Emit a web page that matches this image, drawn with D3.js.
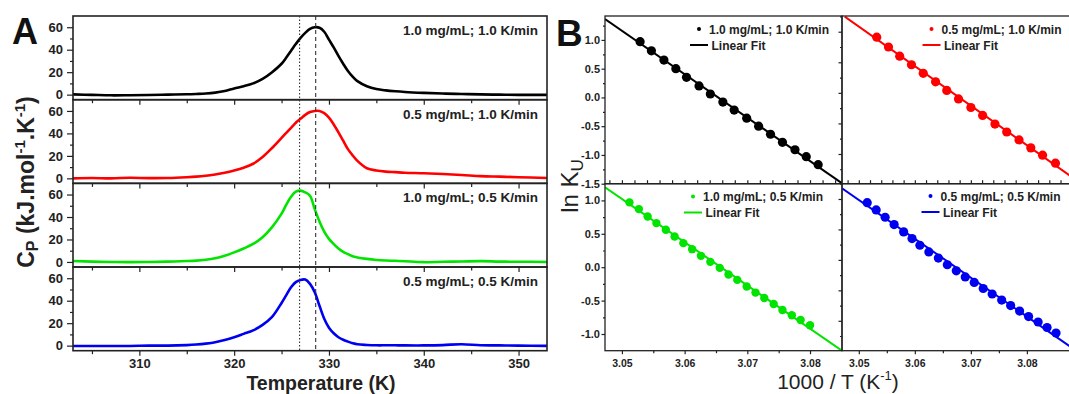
<!DOCTYPE html>
<html>
<head>
<meta charset="utf-8">
<script src="https://cdn.jsdelivr.net/npm/d3@7"></script>
<style>
  body { margin: 0; background: #fff; }
  svg { display: block; font-family: "Liberation Sans", Arial, sans-serif; }
</style>
</head>
<body>
<svg id="chart" width="1069" height="394"></svg>
<script>
// ---------- Panel A: DSC heat capacity traces ----------
const tempK = [303, 305, 307, 309, 311, 313, 315, 316, 317, 318, 319, 320, 321, 322, 323, 324, 325,
  325.5, 326, 326.5, 327, 327.5, 328, 328.5, 329, 329.5, 330, 330.5, 331, 331.5, 332, 332.5, 333,
  334, 335, 336, 337, 338, 340, 342, 344, 346, 348, 350, 353];

const cpC10R10 = [0.2, -0.2, -0.6, -0.5, -0.3, 0, 0.3, 0.6, 1, 1.8, 3.2, 5.5, 7.5, 10, 14, 20, 27.5,
  33, 39, 45, 50.5, 55, 58.5, 60, 59.5, 56, 49, 42, 34.5, 27.5, 21, 16, 12,
  7.5, 5, 3.8, 3, 2.4, 1.6, 1, 0.6, 0.2, 0, -0.2, -0.2];

const cpC05R10 = [0, 0.3, 0, 0.5, 0.2, 0.3, 1, 1.5, 2.3, 3.5, 5, 7, 9.5, 13, 19, 27, 36,
  40.5, 45, 49.5, 53, 56.5, 59, 60, 60, 58, 54, 48, 41, 33.5, 26, 20.5, 15.5,
  9, 7, 6, 5.5, 5, 4.5, 3.8, 3, 2, 1.5, 1, 0.3];

const cpC10R05 = [0.8, 0.3, 0, -0.2, 0, 0.3, 0.8, 1.2, 2, 3.3, 5.5, 8.5, 12, 16, 22, 31, 43,
  51, 58, 62.5, 63.5, 62, 59, 47, 36, 27, 20.5, 16, 12, 9, 7, 5, 4,
  2.7, 1.8, 1.3, 1, 0.6, -0.2, 0.2, 0.4, 0.7, 0.3, 0.2, 0];

const cpC05R05 = [-0.3, -0.3, -0.3, -0.3, 0, 0, 0.5, 1, 1.8, 3, 5, 7.5, 10.5, 13.6, 18.5, 25.6, 38,
  45, 52, 56.5, 58.5, 58.8, 55, 47.5, 35.5, 24, 16, 11, 7.5, 5.2, 3.6, 2.2, 1.2,
  0.6, 0.3, 0.3, 0.3, 0.2, 0.2, 0.5, 1.3, 0.3, 0.2, 0, -0.2];

const sampleLabels = ["1.0 mg/mL; 1.0 K/min", "0.5 mg/mL; 1.0 K/min",
                      "1.0 mg/mL; 0.5 K/min", "0.5 mg/mL; 0.5 K/min"];
const sampleColors = ["#000000", "#ff0000", "#00e400", "#0000f0"];

// transition temperatures marked by the vertical reference lines
const refTempDotted = 326.9;
const refTempDashed = 328.6;

const cpTicks = [0, 20, 40, 60];
const cpMinorTicks = [10, 30, 50];
const tempTicks = [310, 320, 330, 340, 350];
const tempMinorTicks = [305, 315, 325, 335, 345];

// ---------- Panel B: van 't Hoff plots ----------
const invT_C10R10 = [3.0529, 3.0547, 3.0567, 3.0586, 3.0603, 3.0623, 3.0641, 3.0661, 3.0679, 3.0699,
  3.0718, 3.0737, 3.0756, 3.0776, 3.0794, 3.0813];
const lnK_C10R10 = [0.97, 0.81, 0.65, 0.50, 0.35, 0.20, 0.06, -0.08, -0.22, -0.36,
  -0.50, -0.64, -0.78, -0.91, -1.03, -1.17];
const fitX_C10R10 = [3.0473, 3.0851];
const fitY_C10R10 = [1.364, -1.493];

const invT_C05R10 = [3.0532, 3.0553, 3.0573, 3.0594, 3.0615, 3.0637, 3.0657, 3.0678, 3.0700, 3.0721,
  3.0743, 3.0764, 3.0786, 3.0807, 3.0828, 3.0851];
const lnK_C05R10 = [0.91, 0.75, 0.60, 0.46, 0.32, 0.18, 0.04, -0.10, -0.24, -0.37,
  -0.51, -0.64, -0.77, -0.90, -1.02, -1.15];
const fitX_C05R10 = [3.0475, 3.0893];
const fitY_C05R10 = [1.246, -1.459];

const invT_C10R05 = [3.0512, 3.0527, 3.0541, 3.0555, 3.0570, 3.0584, 3.0598, 3.0612, 3.0626, 3.0641,
  3.0656, 3.0670, 3.0684, 3.0699, 3.0713, 3.0727, 3.0742, 3.0756, 3.0771, 3.0785, 3.0800];
const lnK_C10R05 = [0.97, 0.87, 0.76, 0.66, 0.56, 0.46, 0.36, 0.27, 0.17, 0.08,
  -0.01, -0.11, -0.19, -0.29, -0.38, -0.46, -0.55, -0.64, -0.72, -0.79, -0.87];
const fitX_C10R05 = [3.0473, 3.0851];
const fitY_C10R05 = [1.196, -1.25];

const invT_C05R05 = [3.0515, 3.0531, 3.0547, 3.0563, 3.0580, 3.0595, 3.0609, 3.0625, 3.0642, 3.0658,
  3.0674, 3.0690, 3.0706, 3.0722, 3.0738, 3.0755, 3.0771, 3.0787, 3.0803, 3.0820, 3.0836, 3.0852];
const lnK_C05R05 = [0.94, 0.82, 0.70, 0.58, 0.46, 0.35, 0.24, 0.13, 0.03, -0.08,
  -0.18, -0.28, -0.37, -0.47, -0.56, -0.66, -0.75, -0.84, -0.93, -1.02, -1.11, -1.20];
const fitX_C05R05 = [3.047, 3.0893];
const fitY_C05R05 = [1.176, -1.524];

const invTTicks = [3.05, 3.06, 3.07, 3.08];
const invTMinorTicks = [3.055, 3.065, 3.075];
const lnKTicksTop = [1.0, 0.5, 0.0, -0.5, -1.0, -1.5];
const lnKTicksBottom = [1.0, 0.5, 0.0, -0.5, -1.0];
const lnKMinorTicks = [1.25, 0.75, 0.25, -0.25, -0.75, -1.25];
const fitLegendLabel = "Linear Fit";

// ================= drawing =================
const svg = d3.select("#chart");
const defs = svg.append("defs");
const frameColor = "#222";

function styleAxis(g, fontSize) {
  g.select(".domain").remove();
  g.selectAll(".tick line").attr("stroke", frameColor).attr("stroke-width", 1.2);
  g.selectAll(".tick text")
    .attr("fill", "#222")
    .attr("font-weight", "bold")
    .attr("font-size", fontSize)
    .attr("font-family", "'Liberation Sans', Arial, sans-serif");
}

// ---------- Panel A ----------
const xA = d3.scaleLinear().domain([303, 353]).range([73, 547]);
const stripTops = [16, 99.7, 183.3, 267];
const stripH = 83.7;
const cpSeries = [cpC10R10, cpC05R10, cpC10R05, cpC05R05];
const gA = svg.append("g");

cpSeries.forEach((cp, i) => {
  const top = stripTops[i];
  const bottom = top + stripH;
  const y = d3.scaleLinear().domain([-4.5, 70]).range([bottom, top]);

  defs.append("clipPath").attr("id", "clipA" + i)
    .append("rect").attr("x", xA.range()[0]).attr("y", top)
    .attr("width", xA.range()[1] - xA.range()[0]).attr("height", stripH);

  const line = d3.line()
    .x((d, k) => xA(tempK[k]))
    .y(d => y(d))
    .curve(d3.curveCatmullRom.alpha(0.5));

  gA.append("path")
    .datum(cp)
    .attr("clip-path", "url(#clipA" + i + ")")
    .attr("fill", "none")
    .attr("stroke", sampleColors[i])
    .attr("stroke-width", 2.6)
    .attr("stroke-linejoin", "round")
    .attr("d", line);

  // y axis: major + minor ticks
  const yAx = gA.append("g").attr("transform", `translate(${xA.range()[0]},0)`)
    .call(d3.axisLeft(y).tickValues(cpTicks).tickSize(6).tickPadding(4).tickFormat(d3.format("d")));
  styleAxis(yAx, 13);
  const yMinor = gA.append("g").attr("transform", `translate(${xA.range()[0]},0)`)
    .call(d3.axisLeft(y).tickValues(cpMinorTicks).tickSize(3).tickFormat(""));
  styleAxis(yMinor, 13);

  // x axis below each strip
  const last = i === cpSeries.length - 1;
  const xAx = gA.append("g").attr("transform", `translate(0,${bottom})`)
    .call(d3.axisBottom(xA).tickValues(tempTicks).tickSize(5).tickPadding(3.5)
      .tickFormat(last ? d3.format("d") : ""));
  styleAxis(xAx, 13);
  const xMinor = gA.append("g").attr("transform", `translate(0,${bottom})`)
    .call(d3.axisBottom(xA).tickValues(tempMinorTicks).tickSize(3.5).tickFormat(""));
  styleAxis(xMinor, 13);

  gA.append("rect")
    .attr("x", xA.range()[0]).attr("y", top)
    .attr("width", xA.range()[1] - xA.range()[0]).attr("height", stripH)
    .attr("fill", "none").attr("stroke", frameColor).attr("stroke-width", 1.6);

  gA.append("text")
    .attr("x", 538).attr("y", top + 19)
    .attr("text-anchor", "end")
    .attr("font-weight", "bold").attr("font-size", 13.5).attr("fill", "#222")
    .text(sampleLabels[i]);
});

// vertical reference lines through all strips
const aTop = stripTops[0], aBottom = stripTops[3] + stripH;
gA.append("line")
  .attr("x1", xA(refTempDotted)).attr("x2", xA(refTempDotted))
  .attr("y1", aTop).attr("y2", aBottom)
  .attr("stroke", "#333").attr("stroke-width", 1.1).attr("stroke-dasharray", "1.5,2");
gA.append("line")
  .attr("x1", xA(refTempDashed)).attr("x2", xA(refTempDashed))
  .attr("y1", aTop).attr("y2", aBottom)
  .attr("stroke", "#333").attr("stroke-width", 1.1).attr("stroke-dasharray", "4,3");

// titles for panel A
const cpTitle = svg.append("text")
  .attr("transform", "translate(34,182) rotate(-90)")
  .attr("text-anchor", "middle")
  .attr("font-weight", "bold").attr("font-size", 23).attr("fill", "#222");
cpTitle.append("tspan").text("C");
cpTitle.append("tspan").attr("font-size", 16).attr("dy", 4).text("P");
cpTitle.append("tspan").attr("dy", -4).text(" (kJ.mol");
cpTitle.append("tspan").attr("font-size", 15).attr("dy", -9).text("-1");
cpTitle.append("tspan").attr("dy", 9).text(".K");
cpTitle.append("tspan").attr("font-size", 15).attr("dy", -9).text("-1");
cpTitle.append("tspan").attr("dy", 9).text(")");

svg.append("text")
  .attr("x", 321).attr("y", 389.8)
  .attr("text-anchor", "middle")
  .attr("font-weight", "bold").attr("font-size", 19.5).attr("fill", "#222")
  .text("Temperature (K)");

svg.append("text")
  .attr("x", 12).attr("y", 44)
  .attr("font-weight", "bold").attr("font-size", 36).attr("fill", "#111")
  .text("A");

// ---------- Panel B ----------
const gB = svg.append("g");
const bTop = 16, bMid = 183.7, bBottom = 350.7;
const xBL = d3.scaleLinear().domain([3.0473, 3.0851]).range([605, 842]);
const xBR = d3.scaleLinear().domain([3.047, 3.0893]).range([842, 1079]);

const bPanels = [
  { x: xBL, y: d3.scaleLinear().domain([-1.5, 1.416]).range([bMid, bTop]),
    invT: invT_C10R10, lnK: lnK_C10R10, fx: fitX_C10R10, fy: fitY_C10R10,
    color: sampleColors[0], label: sampleLabels[0], yLabels: lnKTicksTop, xLabels: false,
    legendX: 699, legendY: 29, r: 4.6 },
  { x: xBR, y: d3.scaleLinear().domain([-1.486, 1.257]).range([bMid, bTop]),
    invT: invT_C05R10, lnK: lnK_C05R10, fx: fitX_C05R10, fy: fitY_C05R10,
    color: sampleColors[1], label: sampleLabels[1], yLabels: null, xLabels: false,
    legendX: 931.5, legendY: 29, r: 4.6 },
  { x: xBL, y: d3.scaleLinear().domain([-1.25, 1.25]).range([bBottom, bMid]),
    invT: invT_C10R05, lnK: lnK_C10R05, fx: fitX_C10R05, fy: fitY_C10R05,
    color: sampleColors[2], label: sampleLabels[2], yLabels: lnKTicksBottom, xLabels: true,
    legendX: 693, legendY: 196.5, r: 4.2 },
  { x: xBR, y: d3.scaleLinear().domain([-1.491, 1.251]).range([bBottom, bMid]),
    invT: invT_C05R05, lnK: lnK_C05R05, fx: fitX_C05R05, fy: fitY_C05R05,
    color: sampleColors[3], label: sampleLabels[3], yLabels: null, xLabels: true,
    legendX: 930.5, legendY: 196, r: 4.6 }
];

bPanels.forEach((p, i) => {
  const [x0, x1] = p.x.range();
  const [yb, yt] = p.y.range();

  defs.append("clipPath").attr("id", "clipB" + i)
    .append("rect").attr("x", x0).attr("y", yt).attr("width", x1 - x0).attr("height", yb - yt);

  const pg = gB.append("g").attr("clip-path", "url(#clipB" + i + ")");

  pg.append("line")
    .attr("x1", p.x(p.fx[0])).attr("y1", p.y(p.fy[0]))
    .attr("x2", p.x(p.fx[1])).attr("y2", p.y(p.fy[1]))
    .attr("stroke", p.color).attr("stroke-width", 2);

  pg.selectAll("circle.pt")
    .data(d3.zip(p.invT, p.lnK))
    .join("circle")
    .attr("class", "pt")
    .attr("cx", d => p.x(d[0]))
    .attr("cy", d => p.y(d[1]))
    .attr("r", p.r)
    .attr("fill", p.color);

  // y axis
  const yAx = gB.append("g").attr("transform", `translate(${x0},0)`)
    .call(d3.axisLeft(p.y).tickValues(p.yLabels || [1.0, 0.5, 0.0, -0.5, -1.0])
      .tickSize(3.5).tickPadding(1.5)
      .tickFormat(p.yLabels ? (d => d.toFixed(1)) : ""));
  styleAxis(yAx, 11);
  const yMinor = gB.append("g").attr("transform", `translate(${x0},0)`)
    .call(d3.axisLeft(p.y).tickValues(lnKMinorTicks.filter(v => v > p.y.domain()[0] && v < p.y.domain()[1]))
      .tickSize(2).tickFormat(""));
  styleAxis(yMinor, 11);

  // x axis
  if (p.xLabels) {
    const xAx = gB.append("g").attr("transform", `translate(0,${yb})`)
      .call(d3.axisBottom(p.x).tickValues(invTTicks).tickSize(3.5).tickPadding(5)
        .tickFormat(d3.format(".2f")));
    styleAxis(xAx, 10.5);
    const xMinor = gB.append("g").attr("transform", `translate(0,${yb})`)
      .call(d3.axisBottom(p.x).tickValues(invTMinorTicks).tickSize(2.5).tickFormat(""));
    styleAxis(xMinor, 10.5);
  } else {
    // inward ticks along the shared boundary
    const inner = d3.range(3.048, 3.09, 0.002).filter(v => v > p.x.domain()[0] && v < p.x.domain()[1]);
    const xIn = gB.append("g").attr("transform", `translate(0,${yb})`)
      .call(d3.axisTop(p.x).tickValues(inner).tickSize(3.5).tickFormat(""));
    styleAxis(xIn, 10.5);
  }

  gB.append("rect")
    .attr("x", x0).attr("y", yt).attr("width", x1 - x0).attr("height", yb - yt)
    .attr("fill", "none").attr("stroke", frameColor).attr("stroke-width", 1.3);

  // legend
  const lg = gB.append("g");
  lg.append("circle").attr("cx", p.legendX).attr("cy", p.legendY).attr("r", 2).attr("fill", p.color);
  lg.append("text").attr("x", p.legendX + 10).attr("y", p.legendY + 4.5)
    .attr("font-weight", "bold").attr("font-size", 12).attr("fill", "#222").text(p.label);
  lg.append("line")
    .attr("x1", p.legendX - 9).attr("x2", p.legendX + 9)
    .attr("y1", p.legendY + 16).attr("y2", p.legendY + 16)
    .attr("stroke", p.color).attr("stroke-width", 2);
  lg.append("text").attr("x", p.legendX + 12.5).attr("y", p.legendY + 20.5)
    .attr("font-weight", "bold").attr("font-size", 12).attr("fill", "#222").text(fitLegendLabel);
});

// titles for panel B
const lnTitle = svg.append("text")
  .attr("transform", "translate(578,186) rotate(-90)")
  .attr("text-anchor", "middle")
  .attr("font-size", 24).attr("fill", "#222");
lnTitle.append("tspan").text("ln K");
lnTitle.append("tspan").attr("font-size", 17).attr("dy", 5).text("U");

const invTitle = svg.append("text")
  .attr("x", 838).attr("y", 389)
  .attr("text-anchor", "middle")
  .attr("font-size", 21).attr("fill", "#222");
invTitle.append("tspan").text("1000 / T (K");
invTitle.append("tspan").attr("font-size", 13).attr("dy", -9).text("-1");
invTitle.append("tspan").attr("dy", 9).text(")");

svg.append("text")
  .attr("x", 556).attr("y", 46)
  .attr("font-weight", "bold").attr("font-size", 37).attr("fill", "#111")
  .text("B");
</script>
</body>
</html>
